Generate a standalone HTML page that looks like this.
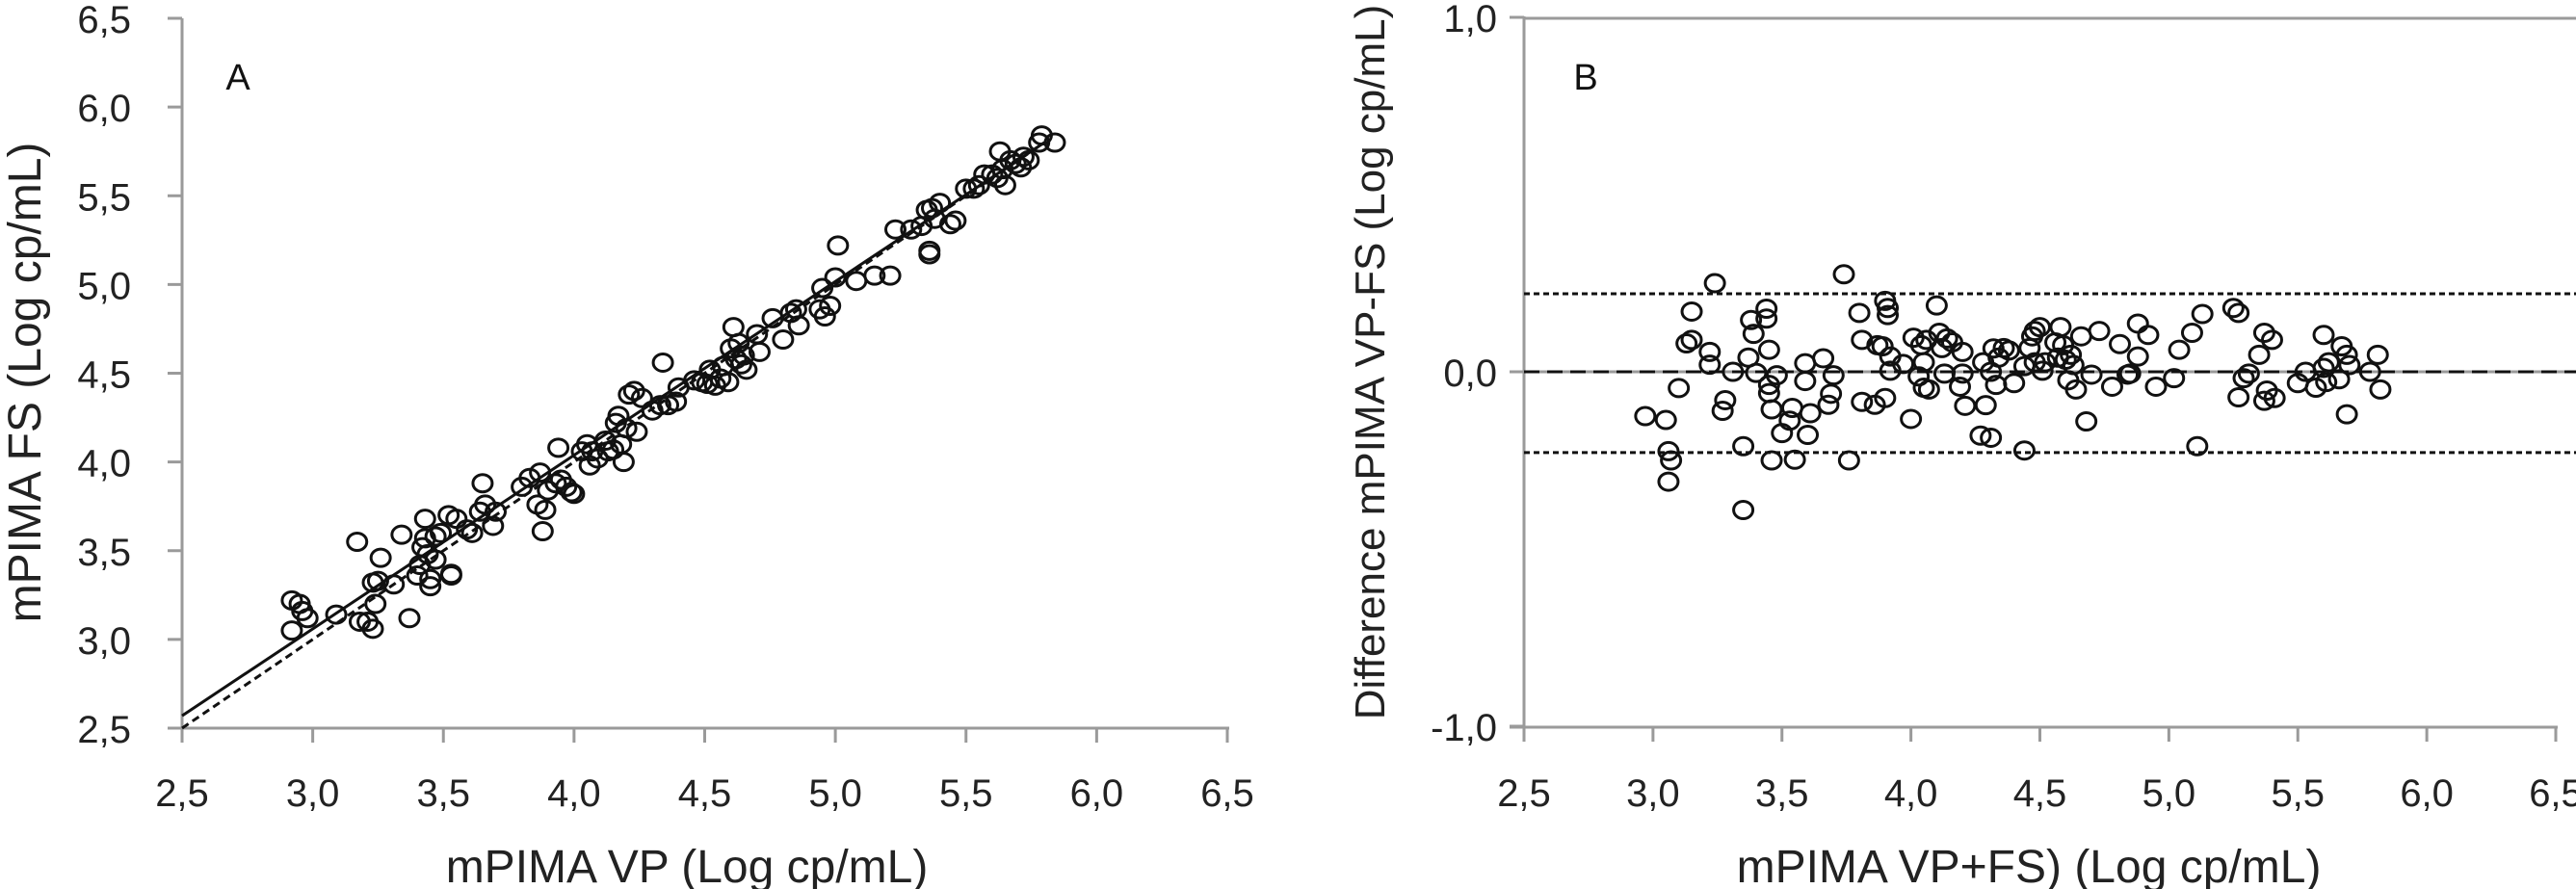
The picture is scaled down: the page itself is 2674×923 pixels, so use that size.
<!DOCTYPE html>
<html><head><meta charset="utf-8"><style>
html,body{margin:0;padding:0;background:#fff}
svg{display:block;font-family:"Liberation Sans",Arial,sans-serif}
</style></head><body>
<svg id="chart" width="2674" height="923" viewBox="0 0 2674 923" xmlns="http://www.w3.org/2000/svg">
<g id="pa"></g>
<g id="pb"></g>
</svg>
<script>
const xTicks=[2.5,3.0,3.5,4.0,4.5,5.0,5.5,6.0,6.5];
const aYTicks=[2.5,3.0,3.5,4.0,4.5,5.0,5.5,6.0,6.5];
const bYTicks=[-1.0,0.0,1.0];
const aX=[2.92,2.95,2.96,2.98,2.92,3.09,3.17,3.18,3.21,3.23,3.24,3.23,3.25,3.26,3.31,3.34,3.37,3.40,3.41,3.42,3.43,3.43,3.44,3.45,3.45,3.47,3.47,3.49,3.52,3.53,3.53,3.55,3.59,3.61,3.64,3.65,3.66,3.69,3.70,3.80,3.83,3.86,3.87,3.88,3.89,3.90,3.93,3.94,3.95,3.97,3.99,4.00,4.03,4.05,4.06,4.07,4.09,4.12,4.13,4.15,4.16,4.17,4.18,4.19,4.20,4.21,4.23,4.24,4.26,4.30,4.33,4.34,4.36,4.39,4.40,4.46,4.49,4.51,4.52,4.54,4.56,4.57,4.59,4.60,4.61,4.62,4.63,4.64,4.65,4.66,4.70,4.71,4.76,4.80,4.83,4.85,4.86,4.94,4.95,4.96,4.98,5.00,5.01,5.08,5.15,5.21,5.23,5.29,5.33,5.35,5.36,5.36,5.37,5.38,5.40,5.44,5.46,5.50,5.53,5.55,5.57,5.60,5.62,5.63,5.64,5.65,5.67,5.69,5.71,5.72,5.74,5.78,5.79,5.84];
const aY=[3.22,3.20,3.16,3.12,3.05,3.14,3.55,3.10,3.10,3.06,3.20,3.32,3.33,3.46,3.31,3.59,3.12,3.36,3.42,3.52,3.57,3.68,3.48,3.34,3.30,3.45,3.58,3.60,3.70,3.36,3.37,3.68,3.62,3.60,3.72,3.88,3.76,3.64,3.72,3.86,3.91,3.76,3.94,3.61,3.73,3.84,3.88,4.08,3.90,3.86,3.83,3.82,4.06,4.10,3.98,4.06,4.02,4.12,4.06,4.07,4.22,4.26,4.10,4.00,4.19,4.38,4.40,4.17,4.36,4.29,4.32,4.56,4.32,4.34,4.42,4.46,4.45,4.44,4.52,4.43,4.47,4.54,4.45,4.64,4.76,4.58,4.67,4.55,4.60,4.52,4.72,4.62,4.81,4.69,4.84,4.86,4.77,4.86,4.98,4.82,4.88,5.04,5.22,5.02,5.05,5.05,5.31,5.31,5.33,5.42,5.17,5.19,5.43,5.37,5.46,5.34,5.36,5.54,5.54,5.56,5.62,5.62,5.60,5.75,5.65,5.56,5.70,5.68,5.66,5.72,5.70,5.80,5.84,5.80];
const regLine=[[2.5,2.57],[5.8,5.8]];
const idLine=[[2.5,2.5],[5.8,5.8]];
const bX=[2.97,3.05,3.06,3.07,3.06,3.10,3.13,3.15,3.15,3.22,3.22,3.24,3.27,3.28,3.31,3.35,3.35,3.37,3.38,3.39,3.40,3.44,3.44,3.45,3.45,3.45,3.46,3.46,3.48,3.50,3.53,3.54,3.55,3.59,3.59,3.60,3.61,3.66,3.68,3.69,3.70,3.74,3.76,3.80,3.81,3.81,3.86,3.87,3.89,3.90,3.90,3.91,3.91,3.92,3.92,3.97,4.00,4.01,4.03,4.04,4.05,4.05,4.06,4.07,4.10,4.11,4.12,4.13,4.14,4.16,4.19,4.20,4.20,4.21,4.28,4.29,4.27,4.31,4.31,4.32,4.33,4.34,4.36,4.38,4.40,4.44,4.44,4.46,4.47,4.48,4.48,4.50,4.51,4.52,4.56,4.57,4.58,4.59,4.60,4.61,4.62,4.63,4.64,4.66,4.68,4.70,4.73,4.78,4.81,4.84,4.85,4.88,4.88,4.92,4.95,5.02,5.04,5.09,5.11,5.13,5.25,5.27,5.27,5.29,5.31,5.35,5.37,5.37,5.38,5.40,5.41,5.50,5.53,5.57,5.60,5.60,5.61,5.62,5.66,5.67,5.69,5.69,5.70,5.78,5.81,5.82];
const bY=[-0.125,-0.136,-0.224,-0.25,-0.31,-0.046,0.08,0.17,0.09,0.056,0.02,0.25,-0.11,-0.08,0,-0.21,-0.39,0.04,0.146,0.107,-0.003,0.178,0.15,0.062,-0.037,-0.06,-0.106,-0.25,-0.01,-0.173,-0.138,-0.102,-0.248,0.024,-0.026,-0.178,-0.117,0.038,-0.093,-0.062,-0.01,0.275,-0.25,0.166,0.09,-0.085,-0.093,0.075,0.072,0.2,-0.074,0.16,0.18,0.043,0.003,0.022,-0.133,0.096,-0.013,0.075,0.027,-0.045,0.09,-0.05,0.187,0.11,0.067,-0.005,0.094,0.083,-0.042,0.056,-0.005,-0.096,0.027,-0.094,-0.18,-0.186,0,0.066,-0.037,0.04,0.067,0.06,-0.032,-0.222,0.016,0.067,0.1,0.115,0.027,0.126,0.003,0.027,0.083,0.04,0.126,0.075,0.034,-0.024,0.048,0.019,-0.05,0.1,-0.14,-0.008,0.115,-0.042,0.078,-0.008,-0.005,0.136,0.043,0.104,-0.042,-0.018,0.062,0.11,-0.21,0.163,0.18,0.166,-0.072,-0.018,-0.005,0.048,0.11,-0.082,-0.053,0.09,-0.074,-0.032,0,-0.045,0.011,0.104,-0.029,0.027,-0.021,0.072,-0.12,0.048,0.019,0,0.048,-0.05];
const bLimits=[0.22,-0.228];
const bMean=[0.0];

const NS="http://www.w3.org/2000/svg";
function mk(p,t,a){const e=document.createElementNS(NS,t);for(const k in a)e.setAttribute(k,a[k]);p.appendChild(e);return e;}
function fmt(v){return v.toFixed(1).replace('.',',');}
const ax=v=>189+(v-2.5)*(1274-189)/4;
const ay=v=>756-(v-2.5)*(756-19)/4;
const bx=v=>1582+(v-2.5)*(2653-1582)/4;
const by=v=>386-v*(755-19)/2;
const AX="#9a9a9a";
const TF=40;

// ---------- Panel A
const pa=document.getElementById('pa');
let e;
e=mk(pa,'line',{x1:189,y1:19,x2:189,y2:758,stroke:AX,'stroke-width':3});

e=mk(pa,'line',{x1:174,y1:756,x2:1276,y2:756,stroke:AX,'stroke-width':3});

aYTicks.forEach(v=>{
  e=mk(pa,'line',{x1:174,y1:ay(v),x2:189,y2:ay(v),stroke:AX,'stroke-width':3});
  
  e=mk(pa,'text',{x:136,y:ay(v)+15,'text-anchor':'end','font-size':TF,fill:'#222'});e.textContent=fmt(v);
  
});
xTicks.forEach(v=>{
  e=mk(pa,'line',{x1:ax(v),y1:756,x2:ax(v),y2:771,stroke:AX,'stroke-width':3});
  
  e=mk(pa,'text',{x:ax(v),y:837,'text-anchor':'middle','font-size':TF,fill:'#222'});e.textContent=fmt(v);
  
});
e=mk(pa,'line',{x1:ax(regLine[0][0]),y1:ay(regLine[0][1]),x2:ax(regLine[1][0]),y2:ay(regLine[1][1]),stroke:'#111','stroke-width':3});

e=mk(pa,'line',{x1:ax(idLine[0][0]),y1:ay(idLine[0][1]),x2:ax(idLine[1][0]),y2:ay(idLine[1][1]),stroke:'#111','stroke-width':3,'stroke-dasharray':'8,5'});

aX.forEach((v,i)=>{
  e=mk(pa,'ellipse',{cx:ax(v),cy:ay(aY[i]),rx:10,ry:9,fill:'none',stroke:'#111','stroke-width':3});
  
});
e=mk(pa,'text',{x:247,y:93,'text-anchor':'middle','font-size':38,fill:'#111'});e.textContent='A';

e=mk(pa,'text',{x:713,y:916,'text-anchor':'middle','font-size':48,fill:'#222'});e.textContent='mPIMA VP (Log cp/mL)';

e=mk(pa,'text',{x:0,y:0,'text-anchor':'middle','font-size':48,fill:'#222',transform:'translate(42,397) rotate(-90)'});e.textContent='mPIMA FS (Log cp/mL)';


// ---------- Panel B
const pb=document.getElementById('pb');
e=mk(pb,'line',{x1:1582,y1:19,x2:2674,y2:19,stroke:AX,'stroke-width':3});

e=mk(pb,'line',{x1:1582,y1:by(0),x2:2674,y2:by(0),stroke:AX,'stroke-width':3});

e=mk(pb,'line',{x1:1582,y1:17,x2:1582,y2:757,stroke:AX,'stroke-width':3});

e=mk(pb,'line',{x1:1567,y1:755,x2:2655,y2:755,stroke:AX,'stroke-width':3});

bYTicks.forEach(v=>{
  e=mk(pb,'line',{x1:1567,y1:by(v),x2:1582,y2:by(v),stroke:AX,'stroke-width':3});
  
  e=mk(pb,'text',{x:1554,y:by(v)+15,'text-anchor':'end','font-size':TF,fill:'#222'});e.textContent=fmt(v);
  
});
xTicks.forEach(v=>{
  e=mk(pb,'line',{x1:bx(v),y1:755,x2:bx(v),y2:770,stroke:AX,'stroke-width':3});
  
  e=mk(pb,'text',{x:bx(v),y:837,'text-anchor':'middle','font-size':TF,fill:'#222'});e.textContent=fmt(v);
  
});
bMean.forEach(v=>{
  e=mk(pb,'line',{x1:1582,y1:by(v),x2:2674,y2:by(v),stroke:'#111','stroke-width':3,'stroke-dasharray':'16,8'});
  
});
bLimits.forEach(v=>{
  e=mk(pb,'line',{x1:1582,y1:by(v),x2:2674,y2:by(v),stroke:'#111','stroke-width':3,'stroke-dasharray':'6,4'});
  
});
bX.forEach((v,i)=>{
  e=mk(pb,'ellipse',{cx:bx(v),cy:by(bY[i]),rx:10,ry:9,fill:'none',stroke:'#111','stroke-width':3});
  
});
e=mk(pb,'text',{x:1646,y:93,'text-anchor':'middle','font-size':38,fill:'#111'});e.textContent='B';

e=mk(pb,'text',{x:2106,y:916,'text-anchor':'middle','font-size':48,fill:'#222'});e.textContent='mPIMA VP+FS) (Log cp/mL)';

e=mk(pb,'text',{x:0,y:0,'text-anchor':'middle','font-size':44,fill:'#222',transform:'translate(1437,376) rotate(-90)'});e.textContent='Difference mPIMA VP-FS (Log cp/mL)';

</script>
</body></html>
